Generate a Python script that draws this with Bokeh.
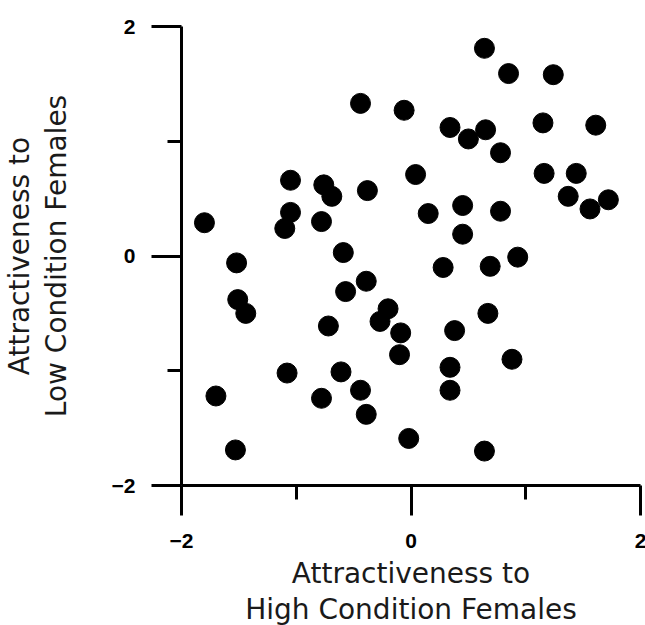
from bokeh.plotting import figure
from bokeh.models import Range1d, FixedTicker, ColumnDataSource
from bokeh.embed import file_html
from bokeh.resources import INLINE

# Attractiveness to high condition females (x) vs low condition females (y)
x_high = [-1.80, -1.70, -1.52, -1.51, -1.44, -1.53, -1.10, -1.05, -1.05, -1.08,
          -0.78, -0.76, -0.69, -0.72, -0.59, -0.57, -0.61, -0.78, -0.44, -0.38,
          -0.39, -0.44, -0.39, -0.27, -0.20, -0.09, -0.10, -0.06, 0.04, -0.02,
          0.15, 0.28, 0.34, 0.34, 0.34, 0.38, 0.45, 0.45, 0.50, 0.64,
          0.65, 0.69, 0.67, 0.64, 0.78, 0.78, 0.88, 0.85, 0.93, 1.15,
          1.16, 1.24, 1.37, 1.44, 1.56, 1.72, 1.61]
y_low = [0.29, -1.22, -0.06, -0.38, -0.50, -1.69, 0.24, 0.38, 0.66, -1.02,
         0.30, 0.62, 0.52, -0.61, 0.03, -0.31, -1.01, -1.24, 1.33, 0.57,
         -0.22, -1.17, -1.38, -0.57, -0.46, -0.67, -0.86, 1.27, 0.71, -1.59,
         0.37, -0.10, 1.12, -0.97, -1.17, -0.65, 0.44, 0.19, 1.02, 1.81,
         1.10, -0.09, -0.50, -1.70, 0.90, 0.39, -0.90, 1.59, -0.01, 1.16,
         0.72, 1.58, 0.52, 0.72, 0.41, 0.49, 1.14]

major_ticks = [-2, 0, 2]
minor_ticks = [-1, 1]

src = ColumnDataSource(data=dict(x=x_high, y=y_low))

p = figure(width=637, height=625, output_backend="svg", toolbar_location=None,
           x_range=Range1d(-2, 2), y_range=Range1d(-2, 2),
           min_border_left=170, min_border_right=8, min_border_top=26,
           frame_width=459, frame_height=459)
p.outline_line_color = None
p.xgrid.visible = False
p.ygrid.visible = False
p.background_fill_color = "white"
p.border_fill_color = "white"

p.scatter("x", "y", source=src, size=20, marker="circle",
          fill_color="black", line_color="black", line_width=1)

p.xaxis.axis_label = "Attractiveness to\nHigh Condition Females"
p.yaxis.axis_label = "Attractiveness to\nLow Condition Females"

for ax in (p.xaxis[0], p.yaxis[0]):
    ax.ticker = FixedTicker(ticks=major_ticks, minor_ticks=minor_ticks)
    ax.axis_line_color = "black"
    ax.axis_line_width = 3
    ax.major_tick_line_color = "black"
    ax.major_tick_line_width = 3
    ax.minor_tick_line_color = "black"
    ax.minor_tick_line_width = 3
    ax.major_tick_in = 0
    ax.major_tick_out = 30
    ax.minor_tick_in = 0
    ax.minor_tick_out = 14
    ax.major_label_text_font = "Liberation Sans"
    ax.major_label_text_font_style = "bold"
    ax.major_label_text_font_size = "21px"
    ax.major_label_text_color = "black"
    ax.axis_label_text_font = "DejaVu Sans"
    ax.axis_label_text_font_style = "normal"
    ax.axis_label_text_font_size = "28px"
    ax.axis_label_text_color = "#1a1a1a"
    ax.axis_label_text_line_height = 1.1

p.xaxis.major_label_standoff = 18
p.yaxis.major_label_standoff = 16
p.xaxis.axis_label_standoff = 6
p.yaxis.axis_label_standoff = 36

open("out.html", "w").write(file_html(p, INLINE))
